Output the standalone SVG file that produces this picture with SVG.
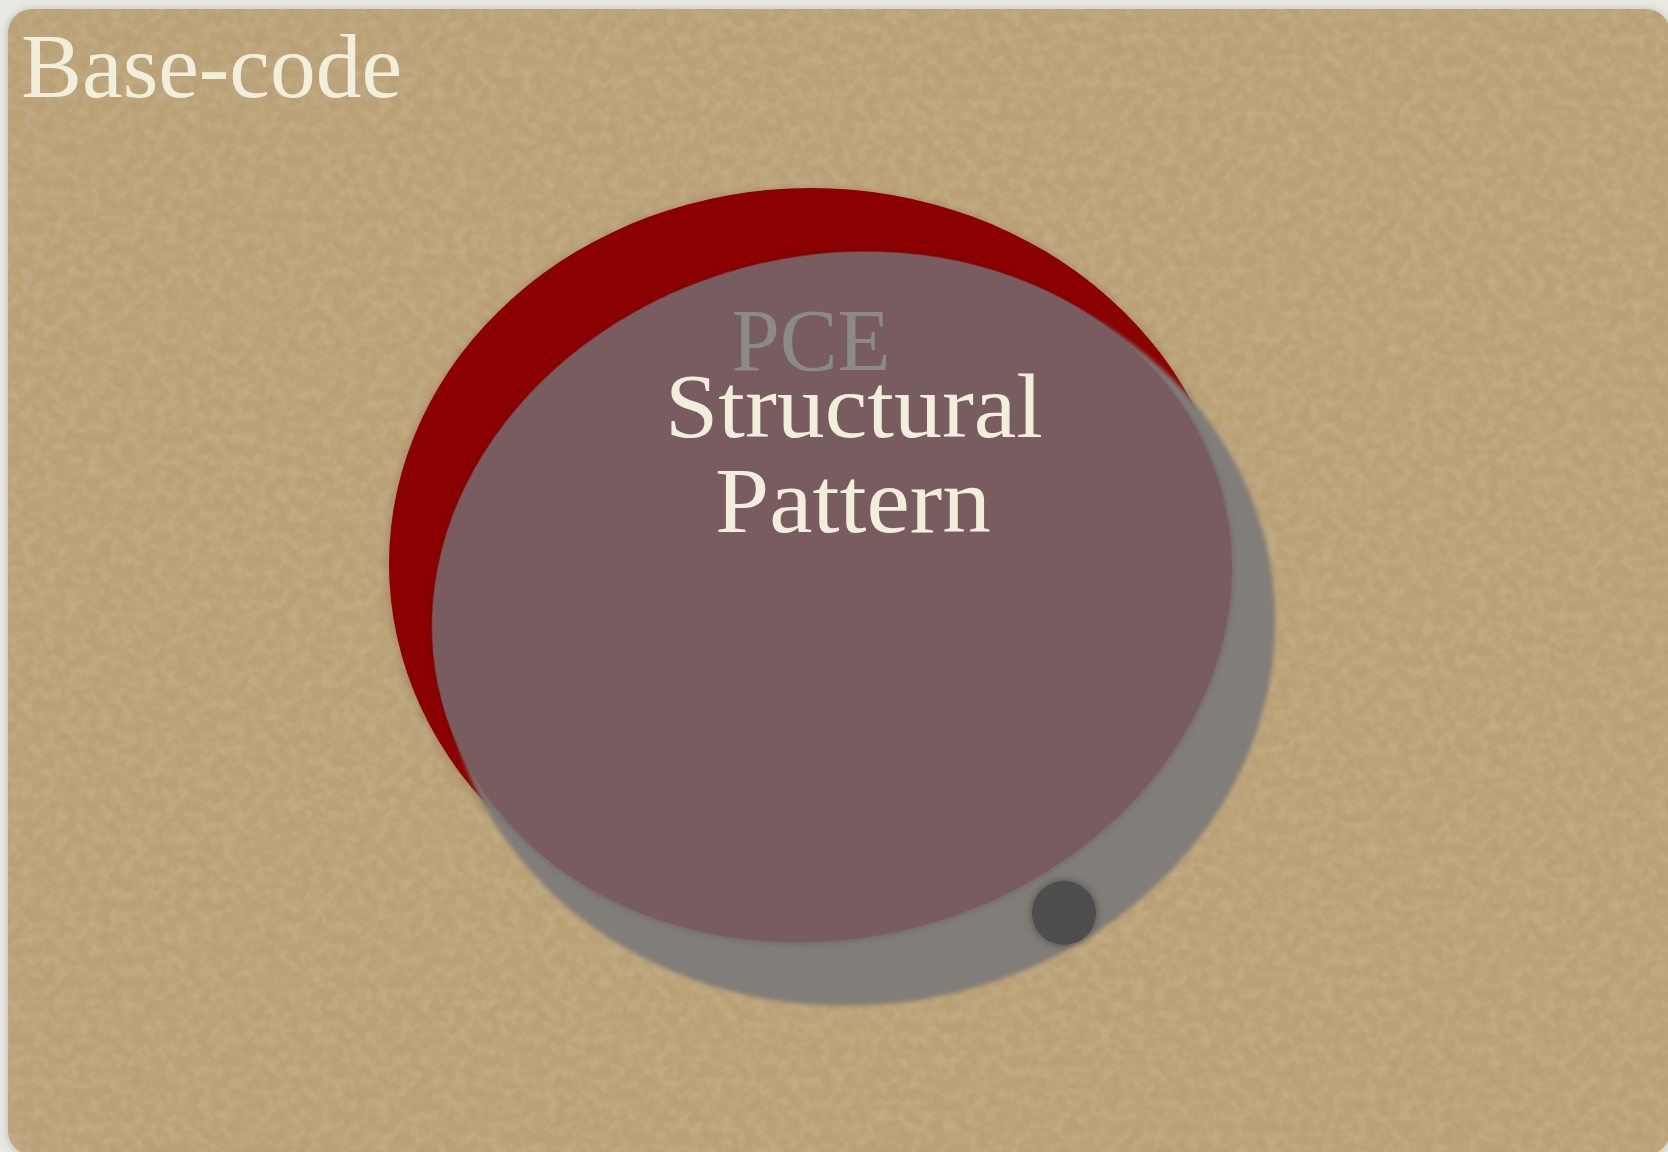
<svg xmlns="http://www.w3.org/2000/svg" width="1668" height="1152" viewBox="0 0 1668 1152">
<defs>
<style>
.serif{font-family:"Liberation Serif","Times New Roman",serif;}
.cream{fill:#f1eedb;}
</style>
<filter id="pageShadow" x="-5%" y="-5%" width="110%" height="110%">
<feGaussianBlur in="SourceAlpha" stdDeviation="4"/>
<feOffset dx="0" dy="1" result="b"/>
<feFlood flood-color="#000" flood-opacity="0.22"/>
<feComposite in2="b" operator="in"/>
<feMerge><feMergeNode/><feMergeNode in="SourceGraphic"/></feMerge>
</filter>
<filter id="paper" x="0" y="0" width="100%" height="100%">
<feTurbulence type="fractalNoise" baseFrequency="0.09" numOctaves="3" seed="7" result="n"/>
<feColorMatrix in="n" type="matrix" values="0 0 0 0 0.95  0 0 0 0 0.85  0 0 0 0 0.7  0.3 0 0 0 -0.1"/>
<feComposite in2="SourceGraphic" operator="in"/>
</filter>
<filter id="soft" x="-10%" y="-10%" width="120%" height="120%">
<feGaussianBlur in="SourceAlpha" stdDeviation="4"/>
<feOffset dx="0" dy="2" result="b"/>
<feFlood flood-color="#3a2a10" flood-opacity="0.3"/>
<feComposite in2="b" operator="in"/>
<feMerge><feMergeNode/><feMergeNode in="SourceGraphic"/></feMerge>
</filter>
<filter id="softLight" x="-10%" y="-10%" width="120%" height="120%">
<feGaussianBlur in="SourceAlpha" stdDeviation="3"/>
<feOffset dx="0" dy="1" result="b"/>
<feFlood flood-color="#2a0000" flood-opacity="0.18"/>
<feComposite in2="b" operator="in"/>
<feMerge><feMergeNode/><feMergeNode in="SourceGraphic"/></feMerge>
</filter>
<filter id="blurEdge" x="-10%" y="-10%" width="120%" height="120%">
<feGaussianBlur stdDeviation="2"/>
</filter>
<filter id="dotShadow" x="-50%" y="-50%" width="200%" height="200%">
<feGaussianBlur in="SourceAlpha" stdDeviation="4"/>
<feOffset dx="0" dy="0" result="b"/>
<feFlood flood-color="#000" flood-opacity="0.4"/>
<feComposite in2="b" operator="in"/>
<feMerge><feMergeNode/><feMergeNode in="SourceGraphic"/></feMerge>
</filter>
</defs>
<rect x="0" y="0" width="1668" height="1152" fill="#e9e8e3"/>
<g id="base-code">
<rect x="8" y="9" width="1662" height="1146" rx="24" fill="#b9a074" filter="url(#pageShadow)"/>
<rect x="8" y="9" width="1662" height="1146" rx="24" fill="#b9a074" filter="url(#paper)"/>
<text class="serif cream" x="21" y="97" font-size="92" textLength="381" lengthAdjust="spacingAndGlyphs">Base-code</text>
</g>
<g id="pce">
<ellipse cx="811" cy="564" rx="422" ry="376" fill="#8b0000" filter="url(#soft)"/>
</g>
<g id="pce-shadow">
<ellipse cx="859" cy="633" rx="417" ry="372" transform="rotate(-8 859 633)" fill="#817d78" filter="url(#blurEdge)"/>
</g>
<g id="structural-pattern">
<ellipse cx="832" cy="597" rx="404" ry="341" transform="rotate(-15 832 597)" fill="#795b60" filter="url(#softLight)"/>
</g>
<g id="pce-label">
<text class="serif" x="811" y="370" font-size="88" fill="#898a89" text-anchor="middle" textLength="159" lengthAdjust="spacingAndGlyphs">PCE</text>
</g>
<g id="structural-label">
<text class="serif cream" x="854" y="437" font-size="92" text-anchor="middle" textLength="378" lengthAdjust="spacingAndGlyphs">Structural</text>
<text class="serif cream" x="853" y="532" font-size="94" text-anchor="middle" textLength="276" lengthAdjust="spacingAndGlyphs">Pattern</text>
</g>
<g id="dot">
<circle cx="1064" cy="913" r="32" fill="#4d4d4d" filter="url(#dotShadow)"/>
</g>
<g id="connectors"/>
</svg>
